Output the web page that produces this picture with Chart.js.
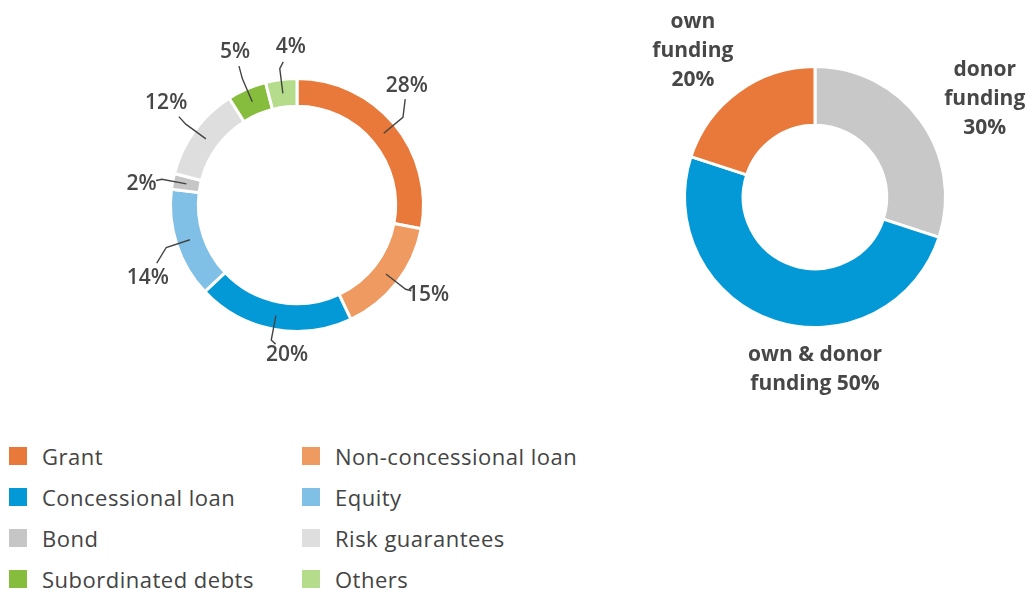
<!DOCTYPE html>
<html>
<head>
<meta charset="utf-8">
<script src="https://cdn.jsdelivr.net/npm/chart.js@4.4.1/dist/chart.umd.min.js"></script>
<style>
  html, body { margin: 0; padding: 0; background: #fff; }
  #wrap { position: relative; width: 1032px; height: 590px; overflow: hidden; font-family: "Open Sans", "Noto Sans", sans-serif; }
  #leftBox { position: absolute; left: 0; top: 0; width: 600px; height: 410px; }
  #rightBox { position: absolute; left: 620px; top: 0; width: 412px; height: 410px; }
  #legend { position: absolute; left: 9px; top: 435px; display: grid; grid-template-columns: 293px 300px; row-gap: 0; }
  .item { display: flex; align-items: center; height: 41px; font-size: 22px; letter-spacing: 0.5px; color: #444; }
  .sw { width: 18px; height: 18px; margin-right: 15px; flex: none; }
</style>
</head>
<body>
<div id="wrap">
  <div id="leftBox"><canvas id="instrumentChart"></canvas></div>
  <div id="rightBox"><canvas id="fundingChart"></canvas></div>
  <div id="legend"></div>
</div>
<script>
// Data: financing instruments (left ring), clockwise from top
const instrumentNames = ['Grant', 'Non-concessional loan', 'Concessional loan', 'Equity', 'Bond', 'Risk guarantees', 'Subordinated debts', 'Others'];
const instrumentShares = [28, 15, 20, 14, 2, 12, 5, 4];
const instrumentColors = ['#E8793A', '#EE9A60', '#0398D6', '#80BFE6', '#C6C6C6', '#DEDEDE', '#86BD3D', '#B4DC8B'];

// Data: funding source (right doughnut), clockwise from top
const fundingLines = [['donor', 'funding'], ['own & donor', 'funding'], ['own', 'funding']];
const fundingShares = [30, 50, 20];
const fundingColors = ['#C8C8C8', '#0398D6', '#E8793A'];

const textColor = '#474747';
const deg = Math.PI / 180;

// Legend (two columns, row by row)
const legend = document.getElementById('legend');
instrumentNames.forEach((name, i) => {
    const el = document.createElement('div');
    el.className = 'item';
    el.innerHTML = '<span class="sw" style="background:' + instrumentColors[i] + '"></span><span>' + name + '</span>';
    legend.appendChild(el);
});

// Percentage labels with leader lines for the thin ring
const leaderLabels = {
    id: 'leaderLabels',
    afterDatasetsDraw(chart, args, opts) {
        const ctx = chart.ctx;
        const meta = chart.getDatasetMeta(0);
        ctx.save();
        ctx.strokeStyle = '#444';
        ctx.lineWidth = 1.4;
        ctx.fillStyle = textColor;
        ctx.font = '600 21px "Open Sans", "Noto Sans", sans-serif';
        ctx.textAlign = 'center';
        ctx.textBaseline = 'middle';
        meta.data.forEach((arc, i) => {
            const p = arc.getProps(['x', 'y', 'startAngle', 'endAngle', 'innerRadius', 'outerRadius'], true);
            const a = (p.startAngle + p.endAngle) / 2;
            const rMid = (p.innerRadius + p.outerRadius) / 2;
            const x1 = p.x + Math.cos(a) * rMid, y1 = p.y + Math.sin(a) * rMid;
            const x2 = p.x + Math.cos(a) * (p.outerRadius + 11), y2 = p.y + Math.sin(a) * (p.outerRadius + 11);
            // text sits a little off the slice middle, as in the source
            const b = a + opts.angleShift[i] * deg;
            const tx = p.x + Math.cos(b) * opts.radius[i];
            const ty = p.y + Math.sin(b) * opts.radius[i];
            const dx = tx - x2, dy = ty - y2;
            const len = Math.hypot(dx, dy) || 1;
            const ux = dx / len, uy = dy / len;
            const gap = Math.min(12 + 10 * Math.abs(ux), len - 6);
            ctx.beginPath();
            ctx.moveTo(x1, y1);
            ctx.lineTo(x2, y2);
            ctx.lineTo(tx - ux * gap, ty - uy * gap);
            ctx.stroke();
            ctx.fillText(instrumentShares[i] + '%', tx, ty);
        });
        ctx.restore();
    }
};

// Multi-line bold labels outside the funding doughnut
const outsideLabels = {
    id: 'outsideLabels',
    afterDatasetsDraw(chart, args, opts) {
        const ctx = chart.ctx;
        const meta = chart.getDatasetMeta(0);
        ctx.save();
        ctx.fillStyle = textColor;
        ctx.font = '700 21px "Open Sans", "Noto Sans", sans-serif';
        ctx.textAlign = 'center';
        ctx.textBaseline = 'middle';
        meta.data.forEach((arc, i) => {
            const p = arc.getProps(['x', 'y', 'startAngle', 'endAngle'], true);
            const a = (p.startAngle + p.endAngle) / 2 + opts.angleShift[i] * deg;
            const r = opts.radius[i];
            const cx = p.x + Math.cos(a) * r, cy = p.y + Math.sin(a) * r;
            const lines = fundingLines[i].slice();
            const pct = fundingShares[i] + '%';
            if (opts.inlineValue[i]) lines[lines.length - 1] += ' ' + pct;
            else lines.push(pct);
            const lh = 29;
            const top = cy - (lines.length - 1) * lh / 2;
            lines.forEach((t, k) => ctx.fillText(t, cx, top + k * lh));
        });
        ctx.restore();
    }
};

new Chart(document.getElementById('instrumentChart'), {
    type: 'doughnut',
    data: {
        labels: instrumentNames,
        datasets: [{
            data: instrumentShares,
            backgroundColor: instrumentColors,
            borderColor: '#fff',
            borderWidth: 3,
            hoverOffset: 0
        }]
    },
    options: {
        responsive: true,
        maintainAspectRatio: false,
        animation: false,
        cutout: '78%',
        layout: { padding: { left: 169, right: 175, top: 77, bottom: 77 } },
        plugins: {
            legend: { display: false },
            tooltip: { enabled: false },
            leaderLabels: {
                angleShift: [-7.7, -3.3, -7, -8, -3, 2, 1.4, 5],
                radius: [162, 159, 150, 166, 157, 166, 165, 158]
            }
        }
    },
    plugins: [leaderLabels]
});

new Chart(document.getElementById('fundingChart'), {
    type: 'doughnut',
    data: {
        labels: fundingLines.map(l => l.join(' ')),
        datasets: [{
            data: fundingShares,
            backgroundColor: fundingColors,
            borderColor: '#fff',
            borderWidth: 3,
            hoverOffset: 0
        }]
    },
    options: {
        responsive: true,
        maintainAspectRatio: false,
        animation: false,
        cutout: '55%',
        layout: { padding: { left: 63, right: 85, top: 65, bottom: 81 } },
        plugins: {
            legend: { display: false },
            tooltip: { enabled: false },
            outsideLabels: { angleShift: [6, -18, -4], radius: [196, 173, 190], inlineValue: [false, true, false] }
        }
    },
    plugins: [outsideLabels]
});
</script>
</body>
</html>
